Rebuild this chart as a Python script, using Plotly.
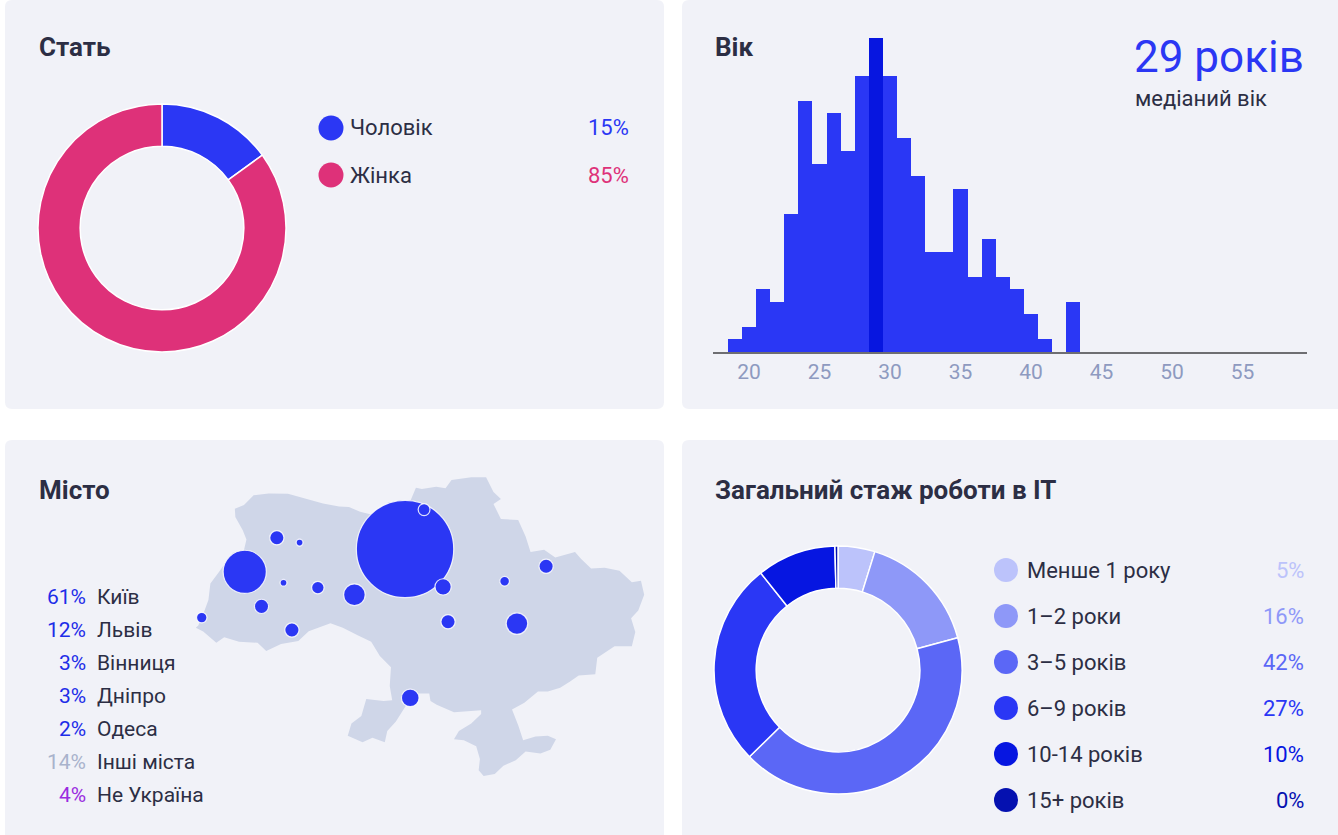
import plotly.graph_objects as go

W, H = 1338, 835

# ---------------- data ----------------
gender_labels = ["Чоловік", "Жінка"]
gender_share = [15, 85]
gender_colors = ["#2b37f4", "#de3179"]

ages = list(range(19, 44))
age_counts = [1, 2, 5, 4, 11, 20, 15, 19, 16, 22, 25, 22, 17,
              14, 8, 8, 13, 6, 9, 6, 5, 3, 1, 0, 4]
median_age = 29
age_ticks = [20, 25, 30, 35, 40, 45, 50, 55]

city_names = ["Київ", "Львів", "Вінниця", "Дніпро", "Одеса", "Інші міста", "Не Україна"]
city_share = [61, 12, 3, 3, 2, 14, 4]
city_colors = ["#1d2de8"] * 5 + ["#a9b3cc", "#9a2ce0"]

# bubbles on the map, share in % (small ones)
map_cities = ["Київ", "Львів", "Вінниця", "Дніпро", "Одеса", "Харків", "Черкаси",
              "Чернігів", "Луцьк", "Рівне", "Тернопіль", "Хмельницький",
              "Івано-Франківськ", "Ужгород", "Чернівці", "Кропивницький", "Полтава"]
map_lon = [30.52, 24.03, 28.47, 35.05, 30.73, 36.23, 32.06, 31.29, 25.33, 26.25,
           25.60, 26.99, 24.71, 22.29, 25.94, 32.26, 34.55]
map_lat = [50.45, 49.84, 49.23, 48.46, 46.48, 49.99, 49.44, 51.50, 50.75, 50.62,
           49.55, 49.42, 48.92, 48.62, 48.29, 48.51, 49.59]
map_share = [61, 12, 3, 3, 2, 1.3, 1.7, 0.9, 1.3, 0.3, 0.3, 1.0, 1.3, 0.7, 1.3, 1.3, 0.6]

# rough outline of Ukraine (lon, lat)
ua_lon = [22.15, 22.30, 22.56, 22.64, 22.95, 23.55, 24.00, 24.10, 23.95, 23.65, 23.63,
          24.00, 24.39, 25.00, 25.78, 26.45, 27.20, 27.85, 28.25, 28.70, 29.15, 29.35,
          30.10, 30.55, 30.64, 30.96, 31.20, 31.78, 32.16, 32.40, 33.20, 33.80, 34.10,
          34.40, 34.10, 34.40, 35.10, 35.40, 35.60, 36.15, 36.60, 37.40, 37.65, 38.05,
          38.60, 39.20, 39.70, 40.07, 40.20, 39.96, 39.67, 39.84, 39.70, 39.00, 38.30,
          38.22, 37.55, 37.20, 36.80, 36.30, 35.90, 35.35, 34.85,
          35.10, 35.30, 35.80, 36.30, 36.63, 36.40, 36.00, 35.40, 35.00, 34.50, 34.15,
          33.70, 33.50, 33.55, 33.40, 32.90, 32.50, 32.70, 33.20, 33.60, 33.60,
          33.00, 32.50, 31.80, 31.55, 31.50, 31.10, 30.75, 30.40, 30.15, 29.80, 29.70,
          29.20, 28.80, 28.20, 28.35, 28.75, 28.95, 29.65, 30.00, 29.90, 29.95, 29.50,
          29.15, 28.60, 28.00, 27.50, 26.95, 26.62, 26.20, 25.50, 24.90, 24.55, 23.80,
          23.20, 22.88, 22.60, 22.35, 22.05, 22.15]
ua_lat = [48.41, 48.62, 49.09, 49.53, 49.80, 50.35, 50.42, 50.70, 50.95, 51.30, 51.52,
          51.62, 51.88, 51.93, 51.92, 51.80, 51.66, 51.58, 51.57, 51.44, 51.37, 51.40,
          51.50, 51.26, 51.58, 52.08, 52.05, 52.11, 52.07, 52.29, 52.36, 52.36, 51.97,
          51.78, 51.65, 51.25, 51.22, 50.78, 50.37, 50.43, 50.22, 50.37, 50.18, 49.93,
          49.95, 49.87, 49.56, 49.60, 49.23, 48.81, 48.60, 48.24, 47.86, 47.86, 47.55,
          47.11, 47.08, 46.92, 46.75, 46.65, 46.65, 46.35, 46.17,
          45.75, 45.35, 45.45, 45.47, 45.38, 45.10, 45.00, 45.05, 44.82, 44.67, 44.45,
          44.40, 44.55, 44.85, 45.19, 45.35, 45.38, 45.60, 45.80, 46.05, 46.15,
          46.12, 46.10, 46.30, 46.40, 46.60, 46.60, 46.48, 46.10, 45.85, 45.60, 45.30,
          45.42, 45.30, 45.47, 45.80, 46.00, 46.45, 46.40, 46.42, 46.80, 47.30, 47.60,
          47.98, 48.15, 48.35, 48.47, 48.35, 48.26, 48.00, 47.92, 47.73, 47.95, 47.98,
          48.10, 47.95, 48.10, 48.25, 48.35, 48.41]

exp_labels = ["Менше 1 року", "1–2 роки", "3–5 років", "6–9 років", "10-14 років", "15+ років"]
exp_share = [4.8, 16.0, 41.8, 26.6, 10.3, 0.4]
exp_colors = ["#bcc3fb", "#8e98f8", "#5b67f6", "#2a37f5", "#0616e1", "#0511b0"]

# ---------------- helpers: pixel -> paper ----------------
def px(x):
    return x / W


def py(y):
    return 1 - y / H


DARK = "#2c2e44"
FONT = "Roboto"


def panel(x0, y0, x1, y1, r=7):
    rx, ry = r / W, r / H
    a, b, c, d = px(x0), py(y0), px(x1), py(y1)
    return dict(
        type="path", xref="paper", yref="paper", layer="below",
        fillcolor="#f1f2f8", line=dict(width=0),
        path=(f"M {a+rx},{b} L {c-rx},{b} Q {c},{b} {c},{b-ry} "
              f"L {c},{d+ry} Q {c},{d} {c-rx},{d} L {a+rx},{d} "
              f"Q {a},{d} {a},{d+ry} L {a},{b-ry} Q {a},{b} {a+rx},{b} Z"),
    )


fig = go.Figure()

# ---- gender donut ----
fig.add_trace(go.Pie(
    labels=gender_labels, values=gender_share, hole=0.66, sort=False,
    direction="clockwise", textinfo="none", showlegend=False,
    marker=dict(colors=gender_colors, line=dict(color="white", width=1.5)),
    domain=dict(x=[px(38), px(286)], y=[py(352), py(104)]),
))

# ---- experience donut ----
fig.add_trace(go.Pie(
    labels=exp_labels, values=exp_share, hole=0.66, sort=False,
    direction="clockwise", textinfo="none", showlegend=False,
    marker=dict(colors=exp_colors, line=dict(color="white", width=1.5)),
    domain=dict(x=[px(714), px(962)], y=[py(794), py(546)]),
))

# ---- age histogram ----
fig.add_trace(go.Bar(
    x=ages, y=age_counts, width=1, showlegend=False,
    marker=dict(color=["#0716e0" if a == median_age else "#2a37f5" for a in ages],
                line=dict(width=0)),
    xaxis="x", yaxis="y",
))

# ---- map ----
fig.add_trace(go.Scatter(
    x=ua_lon, y=ua_lat, mode="lines", fill="toself", fillcolor="#cfd6e8",
    line=dict(width=0, color="#cfd6e8"), showlegend=False, hoverinfo="skip",
    xaxis="x2", yaxis="y2",
))
fig.add_trace(go.Scatter(
    x=map_lon, y=map_lat, mode="markers", text=map_cities, showlegend=False,
    cliponaxis=False,
    marker=dict(size=map_share, sizemode="area", sizeref=61 / (2 * 48.7 ** 2),
                color="#2b37f4", opacity=1,
                line=dict(color="rgba(255,255,255,0.85)", width=1.2)),
    xaxis="x2", yaxis="y2",
))

# ---- legend markers ----
fig.add_trace(go.Scatter(
    x=[0] * len(gender_labels), y=gender_labels, mode="markers", showlegend=False,
    cliponaxis=False,
    marker=dict(size=25, color=gender_colors), xaxis="x3", yaxis="y3",
))
fig.add_trace(go.Scatter(
    x=[0] * len(exp_labels), y=exp_labels, mode="markers", showlegend=False,
    cliponaxis=False,
    marker=dict(size=24, color=exp_colors), xaxis="x5", yaxis="y5",
))

annotations = []


def title(text, x, y):
    annotations.append(dict(
        text=text, x=px(x), y=py(y), xref="paper", yref="paper",
        xanchor="left", yanchor="middle", showarrow=False,
        font=dict(family=FONT, size=26, color=DARK, weight="bold"),
    ))


title("Стать", 37, 47)
title("Вік", 713, 47)
title("Місто", 37, 490)
title("Загальний стаж роботи в IT", 713, 490)

annotations.append(dict(
    text=f"{median_age} років", x=px(1132), y=py(57), xref="paper", yref="paper",
    xanchor="left", yanchor="middle", showarrow=False,
    font=dict(family=FONT, size=44, color="#2b37f4"),
))
annotations.append(dict(
    text="медіаний вік", x=px(1133), y=py(98), xref="paper", yref="paper",
    xanchor="left", yanchor="middle", showarrow=False,
    font=dict(family=FONT, size=22, color=DARK),
))

# gender legend text
for lab, val, col in zip(gender_labels, gender_share, gender_colors):
    annotations.append(dict(text=lab, x=0, y=lab, xref="x3", yref="y3", xanchor="left",
                            xshift=17, showarrow=False,
                            font=dict(family=FONT, size=22, color=DARK)))
    annotations.append(dict(text=f"{val}%", x=1, y=lab, xref="x3", yref="y3",
                            xanchor="right", showarrow=False,
                            font=dict(family=FONT, size=22, color=col)))

# city legend text
for lab, val, col in zip(city_names, city_share, city_colors):
    annotations.append(dict(text=f"{val}%", x=0, y=lab, xref="x4", yref="y4",
                            xanchor="right", showarrow=False,
                            font=dict(family=FONT, size=21, color=col)))
    annotations.append(dict(text=lab, x=0, y=lab, xref="x4", yref="y4",
                            xanchor="left", xshift=7, showarrow=False,
                            font=dict(family=FONT, size=21, color=DARK)))

# experience legend text
for lab, val, col in zip(exp_labels, exp_share, exp_colors):
    annotations.append(dict(text=lab, x=0, y=lab, xref="x5", yref="y5", xanchor="left",
                            xshift=19, showarrow=False,
                            font=dict(family=FONT, size=22, color=DARK)))
    annotations.append(dict(text=f"{round(val)}%", x=1, y=lab, xref="x5", yref="y5",
                            xanchor="right", showarrow=False,
                            font=dict(family=FONT, size=22, color=col)))

hidden = dict(visible=False, fixedrange=True)

fig.update_layout(
    width=W, height=H, margin=dict(l=0, r=0, t=0, b=0),
    paper_bgcolor="white", plot_bgcolor="rgba(0,0,0,0)",
    font=dict(family=FONT, color=DARK),
    bargap=0,
    shapes=[panel(5, 0, 664, 409), panel(682, 0, 1348, 409),
            panel(5, 440, 664, 845), panel(682, 440, 1348, 845)],
    annotations=annotations,
    # histogram
    xaxis=dict(domain=[px(713), px(1307)], range=[17.45, 59.57], tickvals=age_ticks,
               showgrid=False, zeroline=False, showline=True, linecolor="#6e6e72",
               linewidth=2, ticks="", tickfont=dict(family=FONT, size=21, color="#8e9ac0"),
               anchor="y"),
    yaxis=dict(domain=[py(352), py(38)], range=[0, 25], visible=False, anchor="x"),
    # map
    xaxis2=dict(domain=[px(180), px(660)], range=[21.41, 40.84], anchor="y2", **hidden),
    yaxis2=dict(domain=[py(800), py(460)], range=[43.757, 52.823], anchor="x2", **hidden),
    # gender legend
    xaxis3=dict(domain=[px(331), px(631)], range=[0, 1], anchor="y3", **hidden),
    yaxis3=dict(domain=[py(198.5), py(104.5)], type="category", categoryorder="array",
                categoryarray=gender_labels, range=[len(gender_labels) - 0.5, -0.5],
                anchor="x3", **hidden),
    # city legend
    xaxis4=dict(domain=[px(88), px(300)], range=[0, 1], anchor="y4", **hidden),
    yaxis4=dict(domain=[py(811.5), py(580.5)], type="category", categoryorder="array",
                categoryarray=city_names, range=[len(city_names) - 0.5, -0.5],
                anchor="x4", **hidden),
    # experience legend
    xaxis5=dict(domain=[px(1006), px(1306)], range=[0, 1], anchor="y5", **hidden),
    yaxis5=dict(domain=[py(823), py(547)], type="category", categoryorder="array",
                categoryarray=exp_labels, range=[len(exp_labels) - 0.5, -0.5],
                anchor="x5", **hidden),
)

# the page's default body margin would shift the fixed-size figure by 8px
fig.write_html("out.html", config={"displayModeBar": False},
               post_script="document.body.style.margin='0';")
